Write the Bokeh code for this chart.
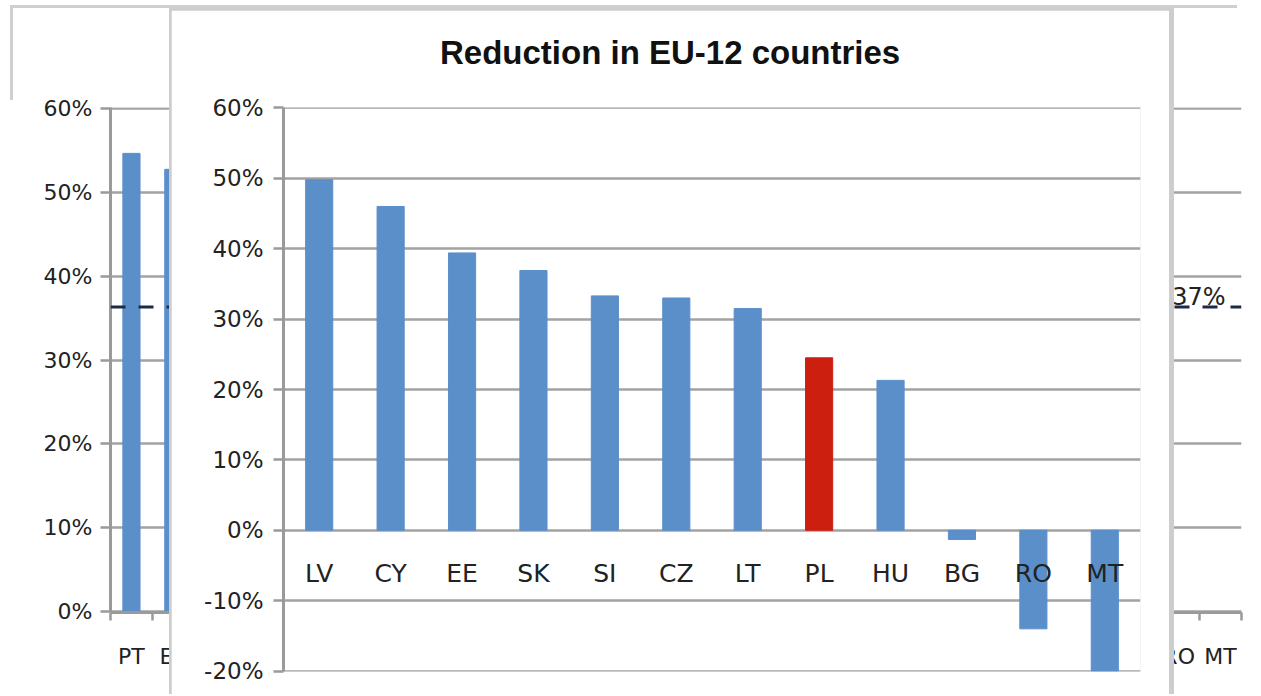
from bokeh.plotting import figure
from bokeh.models import (Range1d, FactorRange, NumeralTickFormatter, FixedTicker,
                          Span, Label, Div, GridBox, Column, ColumnDataSource)
from bokeh.embed import file_html
from bokeh.resources import INLINE
from bokeh.core.properties import value

# ---------------- data ----------------
# background chart (EU-27 ranking, only the visible parts)
bg_countries = ["PT", "ES", "RO", "MT"]
bg_rank = [0, 1, 25, 26]            # position in the EU-27 ranking
bg_values = [0.546, 0.527, -0.141, -0.200]
eu27_count = 27
eu27_avg = 0.363
eu27_avg_label = "37%"
bg_ticks = [0.0, 0.1, 0.2, 0.3, 0.4, 0.5, 0.6]

# inset chart: EU-12
title_text = "Reduction in EU-12 countries"
countries = ["LV", "CY", "EE", "SK", "SI", "CZ", "LT", "PL", "HU", "BG", "RO", "MT"]
values = [0.498, 0.460, 0.394, 0.369, 0.333, 0.330, 0.315, 0.245, 0.213, -0.013, -0.140, -0.200]
highlight = "PL"
inset_ticks = [-0.2, -0.1, 0.0, 0.1, 0.2, 0.3, 0.4, 0.5, 0.6]

# ---------------- styles ----------------
BLUE = "#5b8fca"
RED = "#cc1f10"
GRID = "#a3a3a3"
AXIS = "#9a9a9a"
TXT = "#222222"
TICK_FONT = "DejaVu Sans"
PAD = 0.0006

# ---------------- background chart ----------------
bg = figure(width=1255, height=694, output_backend="svg", toolbar_location=None,
            x_range=Range1d(0, eu27_count), y_range=Range1d(0 - PAD, 0.6 + PAD),
            min_border_left=110, min_border_right=14, min_border_top=107, min_border_bottom=82,
            margin=(0, 0, 0, 0))
bg.outline_line_color = None
bg.background_fill_color = "white"
bg.border_fill_color = "white"

bg_src = ColumnDataSource(dict(x=[r + 0.5 for r in bg_rank], top=bg_values, name=bg_countries))
bg.vbar(x="x", top="top", bottom=0, width=0.41, color=BLUE, source=bg_src)

bg.xgrid.visible = False
bg.ygrid.grid_line_color = GRID
bg.ygrid.grid_line_width = 2.5
bg.ygrid.ticker = FixedTicker(ticks=bg_ticks)

bg.yaxis.ticker = FixedTicker(ticks=bg_ticks)
bg.yaxis.formatter = NumeralTickFormatter(format="0%")
bg.yaxis.axis_line_color = AXIS
bg.yaxis.axis_line_width = 3
bg.yaxis.major_tick_line_color = AXIS
bg.yaxis.major_tick_line_width = 2.5
bg.yaxis.major_tick_out = 10
bg.yaxis.major_tick_in = 0
bg.yaxis.minor_tick_line_color = None
bg.yaxis.major_label_standoff = 8
bg.yaxis.major_label_text_font = TICK_FONT
bg.yaxis.major_label_text_font_size = "22px"
bg.yaxis.major_label_text_color = TXT

bg.xaxis.ticker = FixedTicker(ticks=[r + 0.5 for r in bg_rank],
                              minor_ticks=list(range(eu27_count + 1)))
bg.xaxis.major_label_overrides = {r + 0.5: c for r, c in zip(bg_rank, bg_countries)}
bg.xaxis.axis_line_color = AXIS
bg.xaxis.axis_line_width = 3
bg.xaxis.major_tick_line_color = None
bg.xaxis.major_tick_out = 0
bg.xaxis.major_tick_in = 0
bg.xaxis.minor_tick_line_color = AXIS
bg.xaxis.minor_tick_line_width = 2.5
bg.xaxis.minor_tick_out = 8
bg.xaxis.minor_tick_in = 0
bg.xaxis.major_label_standoff = 23
bg.xaxis.major_label_text_font = TICK_FONT
bg.xaxis.major_label_text_font_size = "22px"
bg.xaxis.major_label_text_color = TXT

bg.add_layout(Span(location=eu27_avg, dimension="width", line_color="#1c2b4a",
                   line_width=3, line_dash="15 13"))
bg.add_layout(Label(x=eu27_count, y=eu27_avg, x_offset=-16, y_offset=10, text=eu27_avg_label,
                    text_align="right", text_baseline="alphabetic",
                    text_font=TICK_FONT, text_font_size="24px", text_color=TXT))

# thin frame lines of the background chart
top_line = Div(text="", width=1227, height=3, margin=(5, 0, 0, 10),
               styles={"background-color": "#cfcfcf"})
left_line = Div(text="", width=3, height=95, margin=(5, 0, 0, 10),
                styles={"background-color": "#cfcfcf"})

# ---------------- inset chart ----------------
inset_border = Div(text="", width=1005, height=687, margin=(7, 0, 0, 169),
                   styles={"background-color": "#cdcdcd"})

inset = figure(width=998, height=684, output_backend="svg", toolbar_location=None,
               x_range=FactorRange(*countries), y_range=Range1d(-0.2 - PAD, 0.6 + PAD),
               x_axis_location=None,
               min_border_left=112, min_border_right=29, min_border_top=97, min_border_bottom=23,
               margin=(0, 0, 0, 0))
inset.outline_line_color = None
inset.background_fill_color = "white"
inset.border_fill_color = "white"

colors = [RED if c == highlight else BLUE for c in countries]
src = ColumnDataSource(dict(x=countries, top=values, color=colors))
inset.vbar(x="x", top="top", bottom=0, width=0.38, color="color", source=src)

inset.xgrid.visible = False
inset.ygrid.ticker = FixedTicker(ticks=inset_ticks)
inset.ygrid.grid_line_color = GRID
inset.ygrid.grid_line_width = 2.5

inset.yaxis.ticker = FixedTicker(ticks=inset_ticks)
inset.yaxis.formatter = NumeralTickFormatter(format="0%")
inset.yaxis.axis_line_color = AXIS
inset.yaxis.axis_line_width = 3
inset.yaxis.major_tick_line_color = AXIS
inset.yaxis.major_tick_line_width = 2.5
inset.yaxis.major_tick_out = 10
inset.yaxis.major_tick_in = 0
inset.yaxis.minor_tick_line_color = None
inset.yaxis.major_label_standoff = 10
inset.yaxis.major_label_text_font = TICK_FONT
inset.yaxis.major_label_text_font_size = "23px"
inset.yaxis.major_label_text_color = TXT

CAT_LABEL_Y = -0.062
inset.text(x=countries, y=[CAT_LABEL_Y] * len(countries), text=countries,
           text_align="center", text_baseline="middle",
           text_font=value(TICK_FONT), text_font_size=value("25px"), text_color=TXT)

# wrap the inset so that its frame is not aligned with the background frame
inset_box = Column(children=[inset], margin=(10, 0, 0, 171), spacing=0)

# title of the inset chart
title_div = Div(text=title_text, width=480, height=36, margin=(36, 0, 0, 440),
                styles={"font-family": "'Liberation Sans', Arial, sans-serif",
                        "font-weight": "bold", "font-size": "33px", "line-height": "1",
                        "color": "#111111", "white-space": "nowrap"})

layout = GridBox(children=[(bg, 0, 0), (top_line, 0, 0), (left_line, 0, 0),
                           (inset_border, 0, 0), (inset_box, 0, 0), (title_div, 0, 0)],
                 spacing=0)

open("out.html", "w").write(file_html(layout, INLINE))
